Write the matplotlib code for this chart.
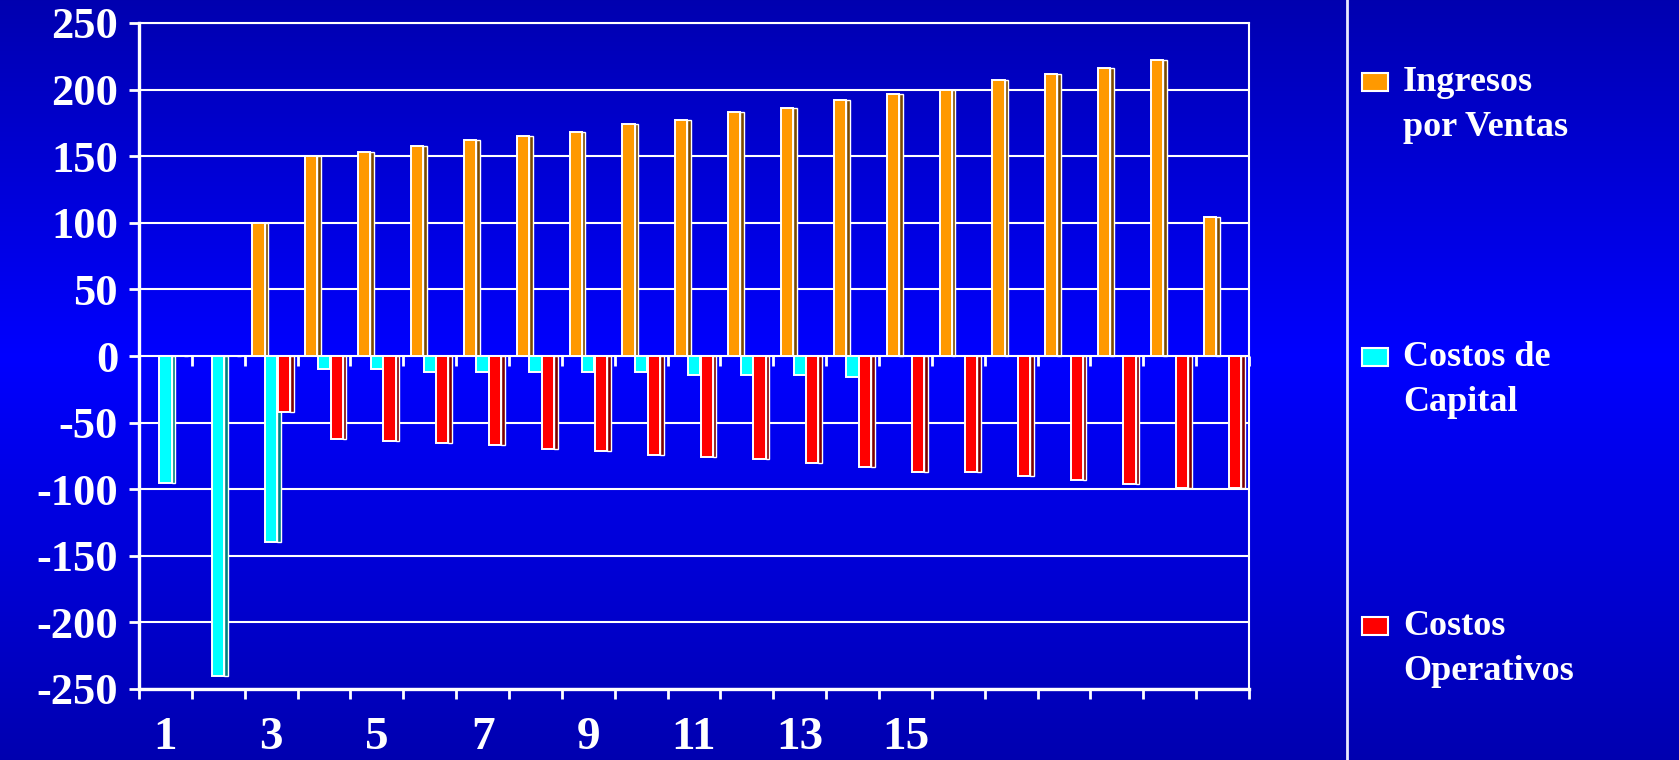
import matplotlib
matplotlib.use("Agg")
import matplotlib.pyplot as plt
import numpy as np
from matplotlib.lines import Line2D
from matplotlib.patches import Rectangle

plt.rcParams["font.family"] = ["Liberation Serif", "DejaVu Serif"]
plt.rcParams["font.weight"] = "bold"

# data
periods = list(range(1, 22))
ingresos = [0, 0, 100, 150, 153, 158, 162, 165, 168, 174, 177, 183, 186,
            192, 197, 200, 207, 212, 216, 222, 104]
capital = [-95, -240, -140, -10, -10, -12, -12, -12, -12, -12, -14, -14, -14,
           -16, 0, 0, 0, 0, 0, 0, 0]
operativos = [0, 0, -42, -62, -64, -65, -67, -70, -71, -74, -76, -77, -80,
              -83, -87, -87, -90, -93, -96, -99, -99]
series_names = ["Ingresos\npor Ventas", "Costos de\nCapital", "Costos\nOperativos"]
y_ticks = list(range(-250, 251, 50))
x_labels = [1, 3, 5, 7, 9, 11, 13, 15]

FACE = ["#FF9900", "#00FFFF", "#FF0000"]
SIDE = ["#7A4A00", "#008080", "#7A0000"]

W, H = 1679, 760
FRONT_W = 0.23
SIDE_W = 0.07
STEP = 0.24

fig = plt.figure(figsize=(W / 100, H / 100), dpi=100)

# blue gradient background
bg = fig.add_axes([0, 0, 1, 1], zorder=-10)
t = np.linspace(0, 1, 400)
b = np.interp(t, [0.0, 0.47, 1.0], [0.69, 1.0, 0.69])
img = np.zeros((400, 2, 3))
img[:, :, 2] = b[:, None]
bg.imshow(img, aspect="auto", extent=[0, 1, 0, 1])
bg.axis("off")

ax = fig.add_axes([139 / W, 1 - 689 / H, (1249 - 139) / W, (689 - 23) / H])
ax.patch.set_alpha(0)

x = np.array(periods, dtype=float)
for k, (vals, face, side) in enumerate(zip([ingresos, capital, operativos], FACE, SIDE)):
    off = (k - 1) * STEP
    ax.bar(x + off + FRONT_W / 2 + SIDE_W / 2, vals, width=SIDE_W, color=side,
           edgecolor="white", linewidth=1.0, zorder=2 + k)
    ax.bar(x + off, vals, width=FRONT_W, color=face, edgecolor="white",
           linewidth=1.4, zorder=2.5 + k)

ax.set_xlim(0.5, len(periods) + 0.5)
ax.set_ylim(-250, 250)
ax.set_yticks(y_ticks)
ax.set_yticklabels([str(v) for v in y_ticks])
ax.yaxis.grid(True, color="white", linewidth=1.5)
ax.set_axisbelow(True)

bounds = np.arange(0.5, len(periods) + 1, 1)
ax.set_xticks(bounds)
ax.set_xticklabels([])
ax.set_xticks(x_labels, minor=True)
ax.set_xticklabels([str(v) for v in x_labels], minor=True)

ax.tick_params(axis="y", colors="white", labelsize=32, length=7, width=2, pad=8)
ax.tick_params(axis="x", which="major", colors="white", length=7, width=2)
ax.tick_params(axis="x", which="minor", colors="white", labelsize=34, length=0, pad=20)
for lab in ax.get_xticklabels(minor=True) + ax.get_yticklabels():
    lab.set_fontweight("bold")

for name, spine in ax.spines.items():
    spine.set_color("white")
    spine.set_linewidth(2.4 if name in ("left", "bottom") else 1.5)

# tick marks along the zero line
sec = ax.secondary_xaxis(0.5)
sec.set_xticks(bounds)
sec.xaxis.set_ticks_position("bottom")
sec.tick_params(axis="x", colors="white", length=7, width=2, direction="out",
                labelbottom=False, labeltop=False)
for spine in sec.spines.values():
    spine.set_visible(False)

# separator and legend
fig.add_artist(Line2D([1347 / W, 1347 / W], [0, 1], transform=fig.transFigure,
                      color="#E8E8FF", linewidth=2))
for name, face, yc in zip(series_names, FACE, [82, 357, 626]):
    fig.add_artist(Rectangle((1362 / W, 1 - (yc + 9) / H), 26 / W, 18 / H,
                             transform=fig.transFigure, facecolor=face,
                             edgecolor="white", linewidth=1.5))
    fig.text(1403 / W, 1 - (yc + 23) / H, name, color="white", fontsize=26,
             fontweight="bold", va="center", ha="left", linespacing=1.5)

fig.savefig("out.png", dpi=100)
